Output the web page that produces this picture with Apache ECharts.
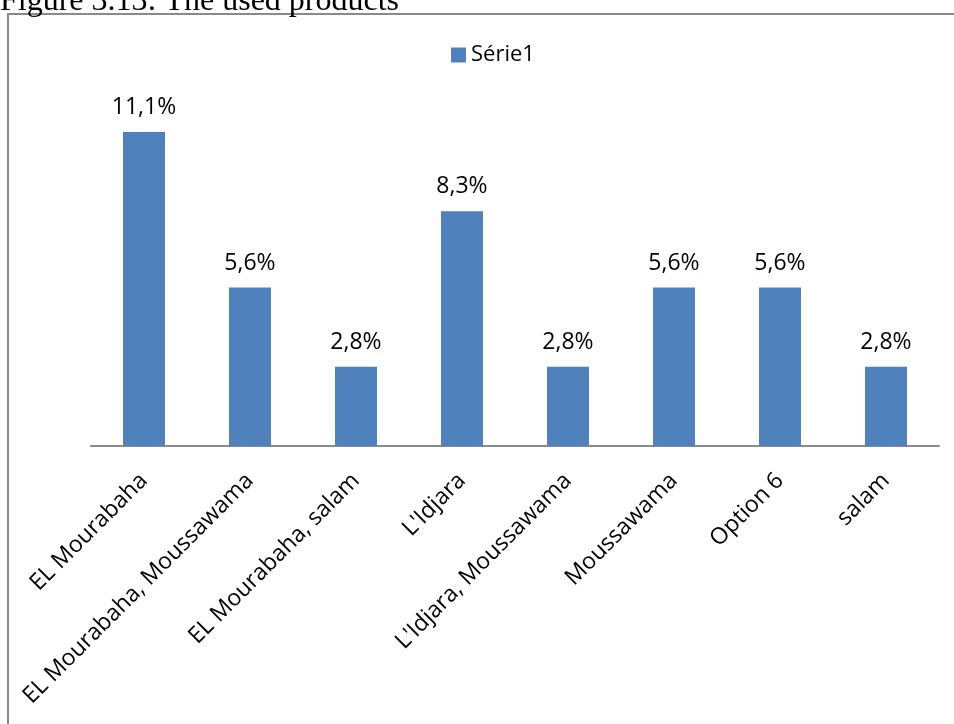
<!DOCTYPE html>
<html>
<head>
<meta charset="utf-8">
<script src="https://cdn.jsdelivr.net/npm/echarts@6/dist/echarts.min.js"></script>
<style>
html,body{margin:0;padding:0;background:#fff;}
#chart{width:954px;height:724px;}
</style>
</head>
<body>
<div id="chart"></div>
<script>
var categories = ["EL Mourabaha", "EL Mourabaha, Moussawama", "EL Mourabaha, salam", "L'Idjara", "L'Idjara, Moussawama", "Moussawama", "Option 6", "salam"];
var values = [11.1, 5.6, 2.8, 8.3, 2.8, 5.6, 5.6, 2.8];
var seriesName = "Série1";
var titleText = "Figure 3.13: The used products";

var chart = echarts.init(document.getElementById('chart'));
var font = '"Open Sans", Lato, sans-serif';
chart.setOption({
  animation: false,
  graphic: [
    {type: 'rect', shape: {x: 8, y: 14, width: 1000, height: 800}, style: {fill: 'none', stroke: '#8a8a8a', lineWidth: 2}, z: 0},
    {type: 'text', x: 0, y: 18, style: {text: titleText, font: '32px "Liberation Serif", "Times New Roman", serif', fill: '#000', verticalAlign: 'bottom'}}
  ],
  legend: {
    data: [seriesName],
    left: 446, top: 39,
    itemWidth: 15, itemHeight: 15, itemGap: 6,
    icon: 'rect',
    textStyle: {fontFamily: font, fontSize: 22, color: '#000'}
  },
  grid: {left: 91, right: 15, top: 50, bottom: 278, containLabel: false},
  xAxis: {
    type: 'category',
    data: categories,
    axisLine: {lineStyle: {color: '#8a8a8a', width: 2}},
    axisTick: {show: false},
    axisLabel: {rotate: 45, interval: 0, margin: 31, fontFamily: font, fontSize: 23, color: '#000'}
  },
  yAxis: {
    type: 'value', min: 0, max: 14,
    show: false,
    splitLine: {show: false}
  },
  series: [{
    name: seriesName,
    type: 'bar',
    data: values,
    barWidth: 42,
    itemStyle: {color: '#4f81bd'},
    label: {
      show: true, position: 'top', distance: 13,
      formatter: function(p){ return p.value.toFixed(1).replace('.', ',') + '%'; },
      fontFamily: font, fontSize: 23, color: '#000'
    }
  }]
});
</script>
</body>
</html>
